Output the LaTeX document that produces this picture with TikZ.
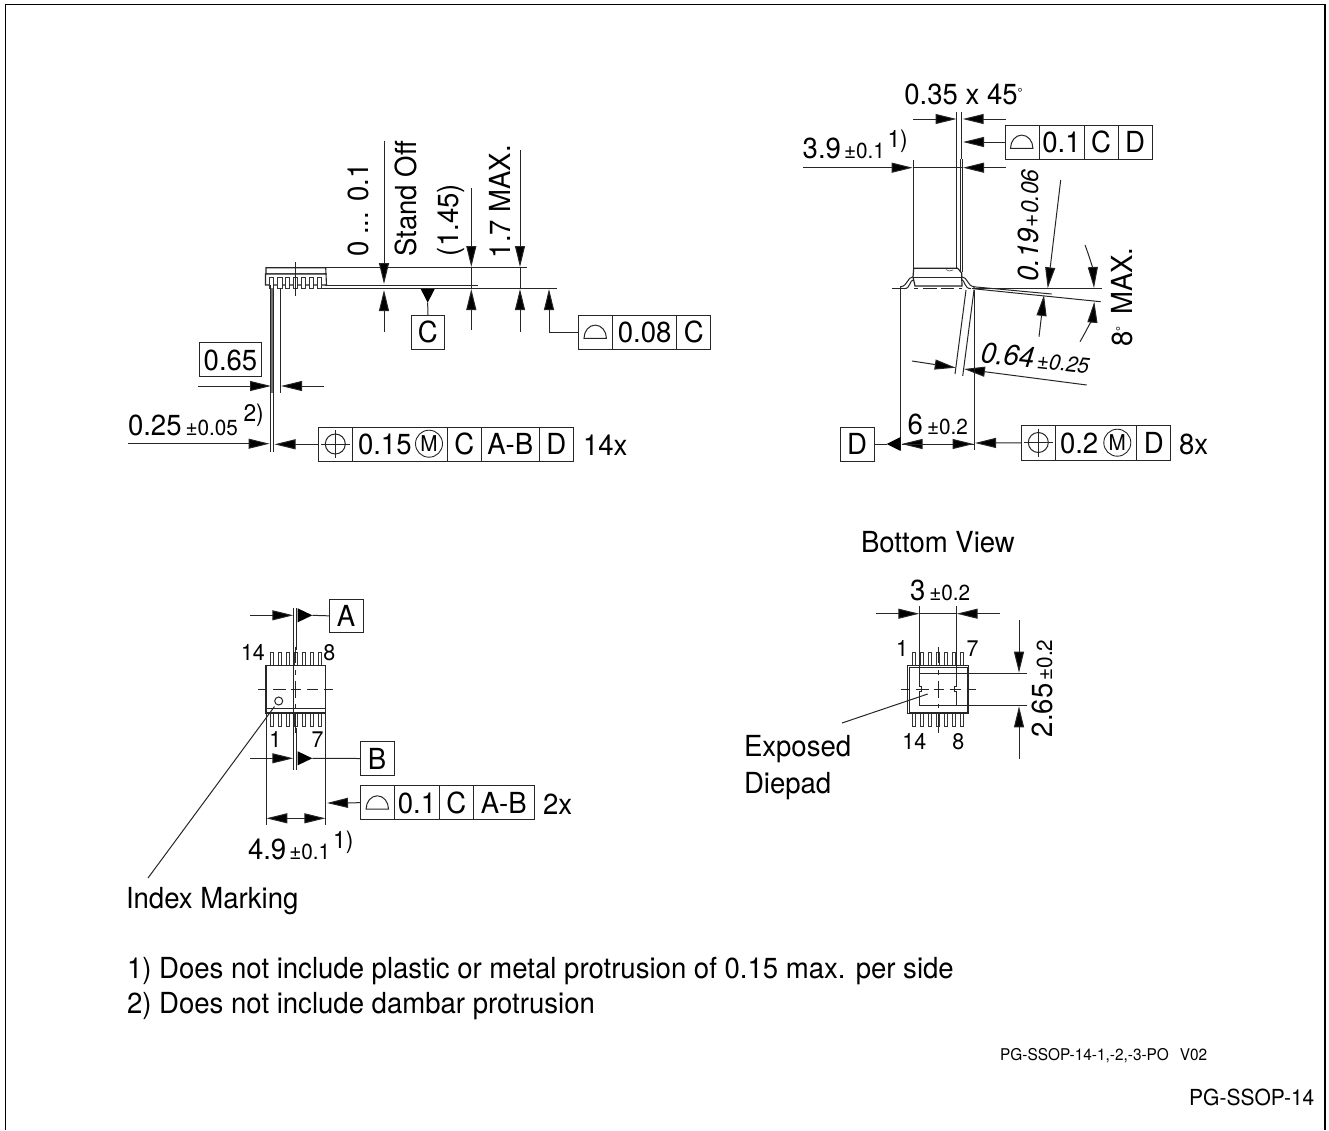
\documentclass[tikz,border=0pt]{standalone}
\usepackage{fontspec}
\setmainfont[FakeStretch=0.95]{TeX Gyre Heros}
\usetikzlibrary{arrows.meta}
\newcommand{\fmain}{\fontsize{29}{32}\selectfont}
\newcommand{\fsm}{\fontsize{21.8}{25}\selectfont}
\newcommand{\fsup}{\fontsize{24}{28}\selectfont}
\newcommand{\fpin}{\fontsize{22.6}{25}\selectfont}
\newcommand{\degsign}{\raisebox{7pt}{\fontsize{13}{13}\selectfont °}}
\tikzset{
  thin line/.style={line width=1pt,draw=black!85},
  dimarrow/.style={thin line,-{Triangle[length=21pt,width=10pt,fill=black]}},
  body/.style={line width=1.5pt,draw=black!85,fill=white},
  pin/.style={line width=.9pt,draw=black!80,fill=white},
  cellbox/.style={draw=black!85,line width=1pt,inner sep=0pt,outer sep=0pt,text height=21pt,text depth=0pt,font=\fmain},
  lbl/.style={anchor=base west,inner sep=0pt,outer sep=0pt,font=\fmain},
  pinlbl/.style={anchor=base west,inner sep=0pt,outer sep=0pt,font=\fpin},
  mcirc/.style={draw=black!85,circle,line width=.9pt,minimum size=27pt,inner sep=0pt,font=\fsm},
  cline/.style={line width=.9pt,draw=black!85,dash pattern=on 9pt off 6pt on 13pt off 5pt on 10pt off 6pt on 11pt off 6pt on 9pt}
}
\newcommand{\cell}[6]{\pgfmathsetmacro\cw{#3-#2}\pgfmathsetmacro\ch{#5-#4}%
  \node[cellbox,minimum width=\cw pt,minimum height=\ch pt] (#1) at ({(#2+#3)/2},{(#4+#5)/2}) {#6};}
\newcommand{\halfdisc}[2]{\draw[thin line] (#1-11.2,#2) arc[start angle=180,end angle=360,x radius=11.2,y radius=13.2] -- cycle;}
\newcommand{\posn}[2]{\draw[thin line] (#1,#2) circle[radius=10];
  \draw[thin line] (#1-14.5,#2) -- (#1+14.5,#2) (#1,#2-14) -- (#1,#2+14);}
\newcommand{\vcentre}[1]{\draw[line width=.9pt,draw=black!85] (#1,646.7) -- (#1,663) (#1,670) -- (#1,675) (#1,680.5) -- (#1,698) (#1,703.5) -- (#1,708) (#1,713) -- (#1,732.7);}
\begin{document}
\begin{tikzpicture}[x=1pt,y=-1pt]
\useasboundingbox (0,0) rectangle (1329,1130);
% frame
\draw[line width=1.6pt,black] (5.5,1130) -- (5.5,4.5) -- (1325,4.5) -- (1325,1130);

%% ---- side view, left
\draw[thin line] (325,267.7) -- (527,267.7);
\draw[thin line] (325,285) -- (478,285);
\draw[thin line] (322,288.3) -- (556.7,288.3);
\draw[body,line width=1.1pt] (266,267.7) -- (325.7,267.7) -- (326,274) -- (266,274) -- cycle;
\draw[body,line width=1.1pt] (265.5,274) -- (326,274) -- (326.5,285) -- (265.5,285) -- cycle;
\foreach \px in {271.7,280,287.7,295.7,303.7,311.7,319.3}
  \draw[pin] (\px-2.2,277) rectangle (\px+2.2,288.3);
\draw[thin line] (295.7,262) -- (295.7,295.7);
\draw[thin line] (270.4,285) -- (270.4,451.7) (273.4,285) -- (273.4,451.7);
\draw[line width=2.2pt,black!55] (271.9,288) -- (271.9,393);
\draw[thin line] (280,288) -- (280,393);

% vertical dimensions
\draw[dimarrow] (384,140.7) -- (384,284);
\draw[dimarrow] (384,332) -- (384,290);
\draw[dimarrow] (471.3,188) -- (471.3,267);
\draw[dimarrow] (471.3,330) -- (471.3,289);
\draw[thin line] (471.3,267) -- (471.3,289);
\draw[dimarrow] (520,150) -- (520,267);
\draw[dimarrow] (520,332) -- (520,289);
\draw[thin line] (520,267) -- (520,289);
\node[lbl,rotate=90] (tzero) at (368.3,256.7) {0\hspace{-1pt} ... 0.1};
\node[lbl,rotate=90] (tstand) at (416,256.7) {Stand Off};
\node[lbl,rotate=90] (tonefour) at (458,256) {(1.45)};
\node[lbl,rotate=90] (tonesev) at (510,258.3) {1.7 MAX.};

% datum C
\cell{boxC}{411}{444.7}{315.3}{349.3}{C}
\coordinate (cTri) at (427.7,302.7);
\fill[black] (420.7,289) -- (434.7,289) -- (cTri) -- cycle;
\draw[thin line] (boxC.north) -- (cTri);

% flatness 0.08 C
\cell{ffa}{578.3}{612.7}{315.3}{349.3}{}
\cell{ffb}{612.7}{676.7}{315.3}{349.3}{0.08}
\cell{ffc}{676.7}{710.7}{315.3}{349.3}{C}
\halfdisc{595.2}{338.3}
\coordinate (ffTip) at (549,289);
\draw[dimarrow] (ffa.west) -| (ffTip);

% 0.65 and 0.25
\cell{boxpitch}{199.3}{261.7}{342.3}{376.7}{0.65}
\draw[dimarrow] (198,386) -- (271,386);
\draw[dimarrow] (324,386) -- (281,386);
\node[lbl] (tquart) at (128,435) {0.25\hspace{4pt}\fsm ±0.05};
\node[anchor=base west,inner sep=0pt,font=\fsup] (tnoteB) at (243.3,421.7) {2)};
\draw[dimarrow] (128,443.7) -- (269.5,443.7);

\cell{pa}{318.3}{352.7}{427.3}{461.3}{}
\cell{pb}{352.7}{447.3}{427.3}{461.3}{}
\cell{pc}{447.3}{481.3}{427.3}{461.3}{C}
\cell{pd}{481.3}{539.3}{427.3}{461.3}{A-B}
\cell{pe}{539.3}{573.3}{427.3}{461.3}{D}
\posn{335.3}{444}
\node[lbl] (tfifteen) at (358,454.5) {0.15};
\node[mcirc] (mA) at (429,443.7) {M};
\draw[dimarrow] (pa.west) -- (274.5,444.3);
\node[lbl] (tfourteenx) at (583,455) {14x};

%% ---- side view, right
\draw[thin line] (956.7,111.7) -- (956.7,268);
\draw[thin line] (961,111.7) -- (961,159);
\draw[thin line] (962.8,159) -- (962.8,272);
\draw[thin line] (960.6,159) -- (960.6,272);
\draw[thin line] (913,160) -- (913,268);
\node[lbl] (tangle) at (904.3,104.3) {0.35 x 45\degsign};
\draw[dimarrow] (913,119) -- (956.5,119);
\draw[dimarrow] (1006,119) -- (962.7,119);
\cell{fa}{1005}{1039}{125}{159}{}
\cell{fb}{1039}{1084}{125}{159}{0.1}
\cell{fc}{1084}{1118}{125}{159}{C}
\cell{fd}{1118}{1152}{125}{159}{D}
\halfdisc{1021.7}{148.3}
\draw[dimarrow] (fa.west) -- (963,142);
\node[lbl] (twidth) at (802.7,158.3) {3.9\hspace{3pt}\fsm ±0.1};
\node[anchor=base west,inner sep=0pt,font=\fsup] (tnoteA) at (887.3,147) {1)};
\draw[dimarrow] (803,167.7) -- (912.7,167.7);
\draw[dimarrow] (1006,167.7) -- (963,167.7);
\draw[thin line] (913,167.7) -- (963,167.7);

% body
\draw[thin line] (891.7,288.7) -- (906,288.7) (972,288.7) -- (1101.7,288.7);
\draw[line width=.9pt,draw=black!85,dash pattern=on 4pt off 5pt on 14pt off 4pt on 13pt off 5pt on 5pt] (914,288.7) -- (962,288.7);
\draw[thin line] (973,288.7) -- (1100.7,301.7);
\draw[thin line] (973,286.7) -- (1051.7,294);
\draw[thin line] (913.3,276.7) .. controls (907,277) and (908,286) .. (900.7,286.7) -- (900.7,288.7);
\draw[thin line] (914,279.5) .. controls (909,280) and (911,288.7) .. (904,288.7);
\draw[thin line] (961.5,276.7) .. controls (968,277) and (967,286) .. (974,286.7) -- (974,288.7);
\draw[thin line] (961.5,279.5) .. controls (965,280) and (964,288.7) .. (971,288.7);
\draw[body,line width=1.2pt] (913.7,268.3) -- (957.7,268.3) -- (961.7,273) -- (961.7,277) -- (962,286) -- (915,286) -- (913,277) -- cycle;
\draw[line width=.8pt,draw=black!85] (913,277) -- (961.7,277);
\draw[line width=.6pt,draw=black!70] (946,269.5) -- (949,271) -- (953,270);

% 0.19
\draw[dimarrow] (1060.7,180) -- (1047.7,288.3);
\draw[dimarrow] (1039,336.7) -- (1044,295);
\node[lbl,rotate=90,font=\fmain\itshape] (tthick) at (1038,281.7) {0.19\hspace{1pt}\fontsize{24}{26}\selectfont\itshape +0.06};
% 8 deg
\coordinate (arcTopEnd) at (1094,288);
\coordinate (arcBotEnd) at (1094.3,301.7);
\draw[thin line,-{Triangle[length=21pt,width=10pt,fill=black]}] (1085,245) .. controls (1090,258) and (1093,270) .. (arcTopEnd);
\draw[thin line,-{Triangle[length=21pt,width=10pt,fill=black]}] (1080,341.7) .. controls (1088,328) and (1093,316) .. (arcBotEnd);
\node[lbl,rotate=90] (teight) at (1132.3,346.7) {8\degsign\hspace{4pt} MAX.};
% 0.64
\draw[thin line] (966,290) -- (955,374);
\draw[thin line] (974,290) -- (962.7,376);
\draw[dimarrow] (912,361) -- (955.7,367.7);
\draw[dimarrow] (1086.7,385) -- (964,369);
\node[lbl,rotate=-6,font=\fmain\itshape] (tlen) at (980,362.5) {0.64\hspace{3pt}\fsm\itshape ±0.25};
% 6
\draw[thin line] (900.7,288) -- (900.7,450);
\draw[thin line] (974,290) -- (974,450);
\cell{boxD}{840}{874}{427}{461}{D}
\coordinate (dTri) at (886.7,444);
\fill[black] (900.7,437) -- (900.7,451) -- (dTri) -- cycle;
\draw[thin line] (boxD.east) -- (dTri);
\draw[thin line,-{Triangle[length=21pt,width=10pt,fill=black]}] (974,444) -- (901.5,444);
\draw[thin line,-{Triangle[length=21pt,width=10pt,fill=black]}] (901.5,444) -- (973.5,444);
\node[lbl] (tsix) at (907.7,434) {6\hspace{4pt}\fsm ±0.2};
\cell{qa}{1021}{1055}{425.7}{460}{}
\cell{qb}{1055}{1136.7}{425.7}{460}{}
\cell{qc}{1136.7}{1170.7}{425.7}{460}{D}
\posn{1038.3}{442.5}
\node[lbl] (ttwo) at (1060,453) {0.2};
\node[mcirc] (mB) at (1117.3,442.7) {M};
\draw[dimarrow] (qa.west) -- (975,443);
\node[lbl] (teightx) at (1179,454) {8x};

%% ---- top view, left
\foreach \px in {271.7,279.7,287.7,295.7,303.7,311.7,319.7}{
  \draw[pin] (\px-1.7,652) rectangle (\px+1.7,665.7);
  \draw[pin] (\px-1.7,713) rectangle (\px+1.7,726);
}
\draw[body] (266,665.7) rectangle (325.7,713);
\draw[line width=1.1pt,draw=black!85] (266,708.5) -- (325.7,708.5);
\draw[cline] (258,689.3) -- (333,689.3);
\vcentre{295.7}
\draw[thin line] (278.7,701) circle[radius=4];
\coordinate (indexEnd) at (148,878);
\draw[thin line] (274.5,706.5) -- (indexEnd);
\node[lbl] (tindex) at (126,908) {Index Marking};
\draw[thin line] (293.7,608) -- (293.7,770);
\draw[thin line] (296.2,608) -- (296.2,650);
\draw[thin line] (296.2,728) -- (296.2,770);
\cell{boxA}{329.3}{363}{599}{632.7}{A}
\cell{boxB}{360}{394}{741.7}{775.3}{B}
\draw[dimarrow] (250,615.3) -- (293.3,615.3);
\draw[dimarrow] (250,758.3) -- (293.3,758.3);
\coordinate (aTip) at (312.3,615.3);
\coordinate (bTip) at (312.3,758.3);
\fill[black] (297.7,608.3) -- (297.7,622.3) -- (aTip) -- cycle;
\fill[black] (297.7,751.3) -- (297.7,765.3) -- (bTip) -- cycle;
\draw[thin line] (boxA.west) -- (aTip);
\draw[thin line] (boxB.west) -- (bTip);
\node[pinlbl] (pl14) at (241,660) {14};
\node[pinlbl] (pl8) at (323.3,660) {8};
\node[pinlbl] (pl1) at (269.3,747.7) {1};
\node[pinlbl] (pl7) at (311.7,747.7) {7};
% 4.9
\draw[thin line] (266,713) -- (266,825);
\draw[thin line] (325.7,713) -- (325.7,825);
\draw[thin line,-{Triangle[length=21pt,width=10pt,fill=black]}] (296,818.3) -- (266.3,818.3);
\draw[thin line,-{Triangle[length=21pt,width=10pt,fill=black]}] (296,818.3) -- (325.4,818.3);
\node[lbl] (tlength) at (248,859.3) {4.9\hspace{3pt}\fsm ±0.1};
\node[anchor=base west,inner sep=0pt,font=\fsup] (tnoteC) at (333,848) {1)};
\cell{ra}{360.3}{394.7}{785.7}{819.7}{}
\cell{rb}{394.7}{439.3}{785.7}{819.7}{0.1}
\cell{rc}{439.3}{473.3}{785.7}{819.7}{C}
\cell{rd}{473.3}{534.3}{785.7}{819.7}{A-B}
\halfdisc{377.3}{809}
\draw[dimarrow] (ra.west) -- (327,803);
\node[lbl] (ttwox) at (543,814) {2x};

%% ---- bottom view
\node[lbl] (tbottom) at (861,552) {Bottom View};
\foreach \px in {913.7,921.7,929.7,937.7,945.7,953.7,961.7}{
  \draw[pin] (\px-1.7,652.7) rectangle (\px+1.7,665.3);
  \draw[pin] (\px-1.7,713.7) rectangle (\px+1.7,726);
}
\draw[body] (907.7,665.3) rectangle (968.7,713.7);
\draw[line width=.9pt,draw=black!85] (909.4,667) rectangle (967,712);
\draw[body,line width=1.1pt] (919.3,673.3) -- (919.3,686.5) -- (921.2,686.5) -- (921.2,691.5) -- (919.3,691.5) -- (919.3,705.7) -- (956.7,705.7) -- (956.7,691.5) -- (954.8,691.5) -- (954.8,686.5) -- (956.7,686.5) -- (956.7,673.3) -- cycle;
\draw[cline] (900.7,689.3) -- (975.7,689.3);
\vcentre{938}
\draw[thin line] (927.7,694) -- (842,723);
\draw[thin line] (919.3,606) -- (919.3,673.3);
\draw[thin line] (956.7,606) -- (956.7,673.3);
\draw[dimarrow] (876,613.7) -- (919.3,613.7);
\draw[dimarrow] (1000,613.7) -- (956.7,613.7);
\draw[thin line] (919.3,613.7) -- (956.7,613.7);
\node[lbl] (tthree) at (910,600) {3\hspace{4pt}\fsm ±0.2};
\draw[thin line] (956.7,673.3) -- (1026.7,673.3);
\draw[thin line] (956.7,705.7) -- (1026.7,705.7);
\draw[dimarrow] (1019,620) -- (1019,672.7);
\draw[dimarrow] (1019,759) -- (1019,706.3);
\node[lbl,rotate=90] (tpad) at (1052,737) {2.65\hspace{3pt}\fsm ±0.2};
\node[pinlbl] (ql1) at (896,656) {1};
\node[pinlbl] (ql7) at (966.7,656) {7};
\node[pinlbl] (ql14) at (902.3,749.3) {14};
\node[pinlbl] (ql8) at (952.3,749.3) {8};
\node[lbl] (texp) at (744,756) {Exposed};
\node[lbl] (tdie) at (744,793) {Diepad};

%% ---- notes
\node[lbl] (n1) at (127,978) {1) Does not include plastic or metal protrusion of 0.15 max. per side};
\node[lbl] (n2) at (127,1013) {2) Does not include dambar protrusion};
\node[anchor=base west,inner sep=0pt,font=\fontsize{16.2}{18}\selectfont] (ncode) at (1000,1060) {PG-SSOP-14-1,-2,-3-PO\hspace{11pt}V02};
\node[anchor=base west,inner sep=0pt,font=\fontsize{22.1}{24}\selectfont] (npkg) at (1189,1105) {PG-SSOP-14};
\end{tikzpicture}
\end{document}
